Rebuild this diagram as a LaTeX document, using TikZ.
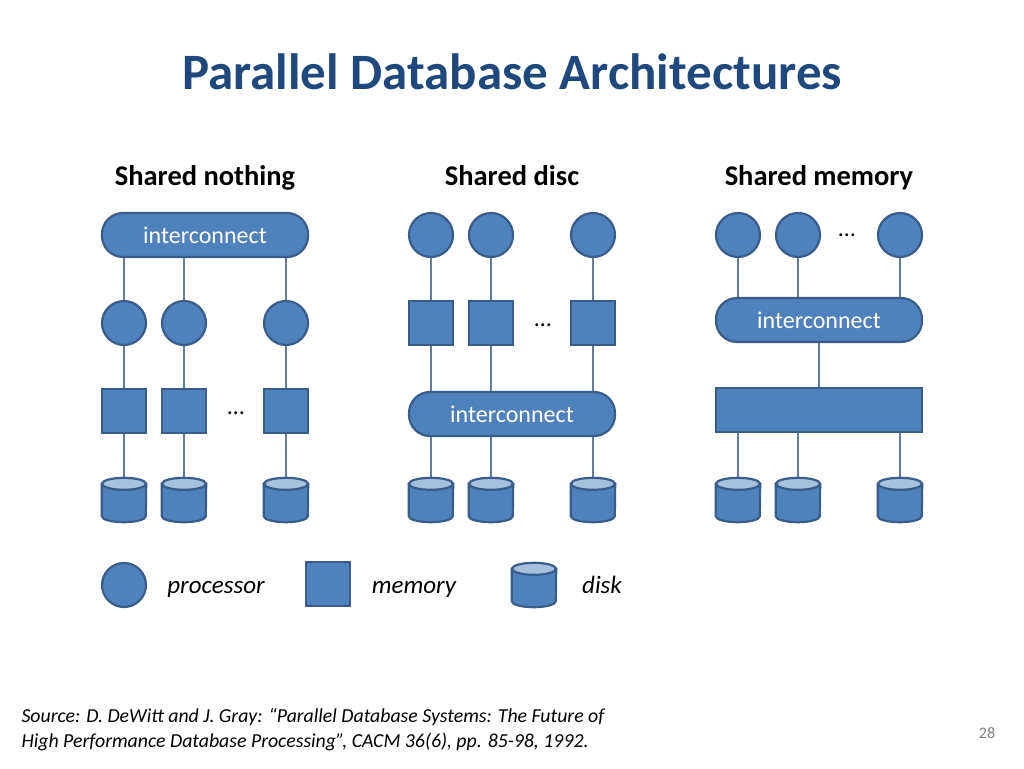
\documentclass[tikz,border=0pt]{standalone}
\usepackage{fontspec}
\setmainfont{Carlito}
\usetikzlibrary{positioning}
\usetikzlibrary{calc}
\definecolor{boxfill}{HTML}{4F81BD}
\definecolor{boxline}{HTML}{385D8A}
\definecolor{diskTop}{HTML}{A7C0DE}
\definecolor{titleblue}{HTML}{1F497D}

\tikzset{
	proc/.style={circle, draw=boxline, fill=boxfill, line width=2.2pt, minimum size=44pt, inner sep=0pt},
	mem/.style={rectangle, draw=boxline, fill=boxfill, line width=2.2pt, minimum size=44pt, inner sep=0pt},
	disk/.style={rectangle, minimum width=44pt, minimum height=44pt, inner sep=0pt},
	bus/.style={rectangle, rounded corners=21pt, draw=boxline, fill=boxfill, line width=2.2pt,
		minimum width=206pt, minimum height=44pt, text=white, font=\fontsize{24}{28}\selectfont},
	link/.style={boxline!80!white, line width=2.2pt},
	head/.style={anchor=base, font=\bfseries\fontsize{28.5}{32}\selectfont},
	legend/.style={anchor=base, font=\itshape\fontsize{25}{30}\selectfont},
	dots/.style={font=\fontsize{24}{28}\selectfont}
}
% disk drawn on a named placeholder node
\newcommand{\drawdisk}[1]{%
	\draw[boxline, line width=2.2pt, fill=boxfill]
		($(#1.north west)+(0,6)$) -- ($(#1.south west)+(0,-6)$)
		arc [start angle=180, end angle=0, x radius=22, y radius=6]
		-- ($(#1.north east)+(0,6)$) -- cycle;
	\draw[boxline, line width=2.2pt, fill=diskTop]
		($(#1.north)+(0,6)$) ellipse [x radius=22, y radius=6];
}

\begin{document}
\begin{tikzpicture}[x=1pt, y=-1pt]

	% ------------------------------------------------
	% Page frame
	\useasboundingbox (0,0) rectangle (1024,768);

	\node[text=titleblue, font=\bfseries\fontsize{51}{58}\selectfont] (Title) at (512,72) {Parallel Database Architectures};

	\node[head] (HeadNothing) at (205,185) {Shared nothing};
	\node[head] (HeadDisc)    at (512,185) {Shared disc};
	\node[head] (HeadMemory)  at (819,185) {Shared memory};

	% ----------------
	% Shared nothing
	\node[bus] (BusA) at (205,235) {interconnect};
	\foreach \i/\x in {1/124, 2/184, 3/286} {
		\node[proc] (ProcA\i) at (\x,323) {};
		\node[mem]  (MemA\i)  at (\x,411) {};
		\node[disk] (DiskA\i) at (\x,500) {};
		\draw[link] (BusA.south -| ProcA\i) -- (ProcA\i);
		\draw[link] (ProcA\i) -- (MemA\i);
		\draw[link] (MemA\i) -- (DiskA\i.north);
		\drawdisk{DiskA\i}
	}
	\node[dots] (DotsA) at (236,413) {\dots};

	% ----------------
	% Shared disc
	\node[bus] (BusB) at (512,414) {interconnect};
	\foreach \i/\x in {1/431, 2/491, 3/593} {
		\node[proc] (ProcB\i) at (\x,235) {};
		\node[mem]  (MemB\i)  at (\x,323) {};
		\node[disk] (DiskB\i) at (\x,500) {};
		\draw[link] (ProcB\i) -- (MemB\i);
		\draw[link] (MemB\i) -- (BusB.north -| MemB\i);
		\draw[link] (BusB.south -| DiskB\i) -- (DiskB\i.north);
		\drawdisk{DiskB\i}
	}
	\node[dots] (DotsB) at (543,325) {\dots};

	% ----------------
	% Shared memory
	\node[bus] (BusC) at (819,320) {interconnect};
	\node[mem, minimum width=206pt] (MemC) at (819,410) {};
	\foreach \i/\x in {1/738, 2/798, 3/900} {
		\node[proc] (ProcC\i) at (\x,235) {};
		\node[disk] (DiskC\i) at (\x,500) {};
		\draw[link] (ProcC\i) -- (BusC.north -| ProcC\i);
		\draw[link] (MemC.south -| DiskC\i) -- (DiskC\i.north);
		\drawdisk{DiskC\i}
	}
	\draw[link] (BusC) -- (MemC);
	\node[dots] (DotsC) at (847,235) {\dots};

	% ----------------
	% Legend
	\node[proc] (LegProc) at (124,585) {};
	\node[legend] (LegProcText) at (216,593) {processor};
	\node[mem]  (LegMem) at (328,584) {};
	\node[legend] (LegMemText) at (414,593) {memory};
	\node[disk] (LegDisk) at (534,585) {};
	\drawdisk{LegDisk}
	\node[legend] (LegDiskText) at (602,593) {disk};

	% ----------------
	% Footer
	\node[anchor=west, align=left, font=\itshape\fontsize{19.8}{25}\selectfont] (Source) at (18,730)
		{Source: D. DeWitt and J. Gray: “Parallel Database Systems: The Future of\\
		 High Performance Database Processing”, CACM 36(6), pp. 85-98, 1992.};
	\node[text=gray, font=\fontsize{16}{18}\selectfont] (PageNo) at (987,733) {28};

\end{tikzpicture}
\end{document}
